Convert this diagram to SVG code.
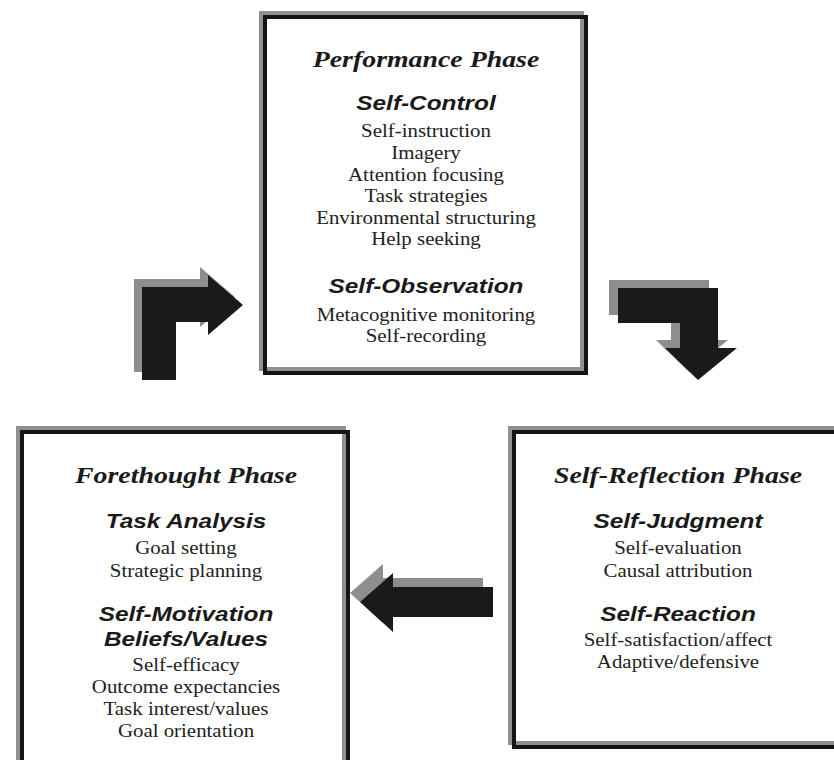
<svg xmlns="http://www.w3.org/2000/svg" width="834" height="760" viewBox="0 0 834 760">
<style>
.shadow{fill:none;stroke:#909090;stroke-width:4}
.border{fill:none;stroke:#151515;stroke-width:4}
.phase{font-family:"Liberation Serif","Times New Roman",serif;font-weight:bold;font-style:italic;font-size:24px;fill:#1a1a1a;text-anchor:middle}
.head{font-family:"Liberation Sans",Arial,sans-serif;font-weight:bold;font-style:italic;font-size:21px;fill:#1a1a1a;text-anchor:middle}
.item{font-family:"Liberation Serif","Times New Roman",serif;font-size:18px;fill:#222;text-anchor:middle}
.arrS{fill:#8e8e8e}
.arrB{fill:#1a1a1a}
</style>
<rect width="834" height="760" fill="#fff"/>
<g id="performance">
<rect class="shadow" x="261" y="13" width="321" height="356"/>
<rect class="border" x="265" y="17" width="321" height="356"/>
<g transform="translate(426,0) scale(1.16,1)">
<text class="phase" x="0" y="67">Performance Phase</text>
<text class="head" x="0" y="110">Self-Control</text>
<text class="item" x="0" y="137">Self-instruction</text>
<text class="item" x="0" y="159">Imagery</text>
<text class="item" x="0" y="181">Attention focusing</text>
<text class="item" x="0" y="202">Task strategies</text>
<text class="item" x="0" y="224">Environmental structuring</text>
<text class="item" x="0" y="245">Help seeking</text>
<text class="head" x="0" y="293">Self-Observation</text>
<text class="item" x="0" y="321">Metacognitive monitoring</text>
<text class="item" x="0" y="342">Self-recording</text>
</g>
</g>
<g id="forethought">
<rect class="shadow" x="18" y="428" width="326" height="350"/>
<rect class="border" x="22" y="432" width="326" height="350"/>
<g transform="translate(186,0) scale(1.16,1)">
<text class="phase" x="0" y="483">Forethought Phase</text>
<text class="head" x="0" y="528">Task Analysis</text>
<text class="item" x="0" y="554">Goal setting</text>
<text class="item" x="0" y="577">Strategic planning</text>
<text class="head" x="0" y="621">Self-Motivation</text>
<text class="head" x="0" y="646">Beliefs/Values</text>
<text class="item" x="0" y="671">Self-efficacy</text>
<text class="item" x="0" y="693">Outcome expectancies</text>
<text class="item" x="0" y="715">Task interest/values</text>
<text class="item" x="0" y="737">Goal orientation</text>
</g>
</g>
<g id="reflection">
<rect class="shadow" x="510" y="428" width="340" height="315"/>
<rect class="border" x="514" y="432" width="340" height="315"/>
<g transform="translate(678,0) scale(1.16,1)">
<text class="phase" x="0" y="483">Self-Reflection Phase</text>
<text class="head" x="0" y="528">Self-Judgment</text>
<text class="item" x="0" y="554">Self-evaluation</text>
<text class="item" x="0" y="577">Causal attribution</text>
<text class="head" x="0" y="621">Self-Reaction</text>
<text class="item" x="0" y="646">Self-satisfaction/affect</text>
<text class="item" x="0" y="668">Adaptive/defensive</text>
</g>
</g>
<g id="connectors">
<g id="arrow-forethought-performance">
<polygon class="arrS" transform="translate(-8,-8)" points="142,380 142,287 208,287 208,275 243,305 208,335 208,322 176,322 176,380"/>
<polygon class="arrB" points="142,380 142,287 208,287 208,275 243,305 208,335 208,322 176,322 176,380"/>
</g>
<g id="arrow-performance-reflection">
<polygon class="arrS" transform="translate(-9,-8)" points="618,288 718,288 718,348 737,348 698,380 665,348 680,348 680,323 618,323"/>
<polygon class="arrB" points="618,288 718,288 718,348 737,348 698,380 665,348 680,348 680,323 618,323"/>
</g>
<g id="arrow-reflection-forethought">
<polygon class="arrS" transform="translate(-10,-9)" points="493,587 493,617 393,617 393,632 360,602 393,573 393,587"/>
<polygon class="arrB" points="493,587 493,617 393,617 393,632 360,602 393,573 393,587"/>
</g>
</g>
</svg>
